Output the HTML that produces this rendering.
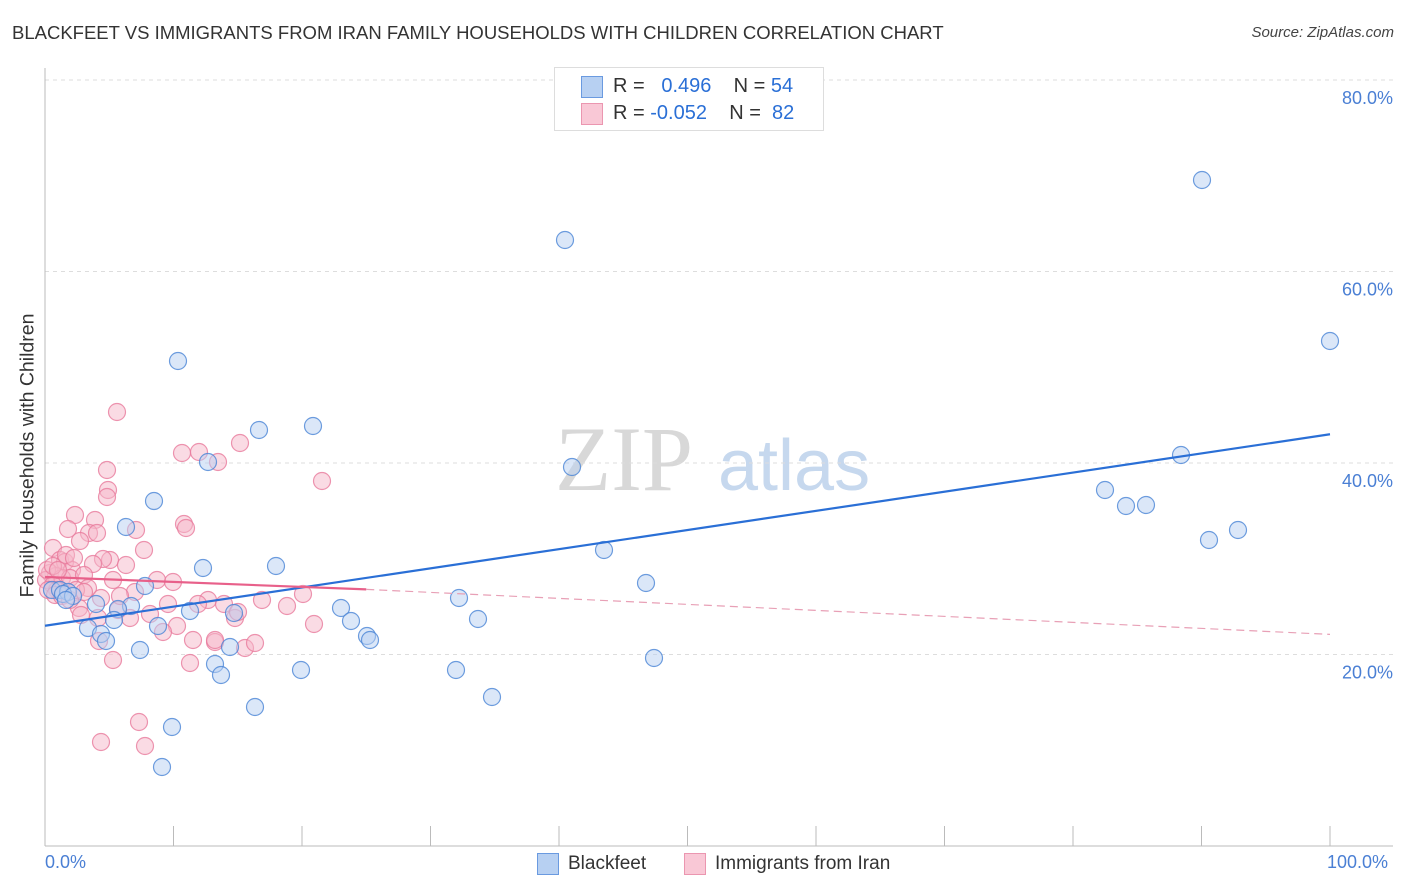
<!DOCTYPE html>
<html><head><meta charset="utf-8"><style>
body{margin:0;background:#fff;font-family:"Liberation Sans",sans-serif;}
#wrap{position:relative;width:1406px;height:892px;overflow:hidden;}
.t{position:absolute;white-space:nowrap;}
</style></head><body>
<div id="wrap">
<div class="t" style="left:12px;top:22px;font-size:18.5px;color:#333;">BLACKFEET VS IMMIGRANTS FROM IRAN FAMILY HOUSEHOLDS WITH CHILDREN CORRELATION CHART</div>
<div class="t" style="right:12px;top:24px;font-size:15px;font-style:italic;color:#444;">Source: ZipAtlas.com</div>
<svg id="svg" width="1406" height="892" style="position:absolute;left:0;top:0"></svg>
</div>
<script>
const blueX=[1202,565,1330,178,313,259,208,572,1181,1105,1126,1146,154,126,1238,1209,604,276,203,646,145,52,60,68,96,131,118,459,341,190,234,351,478,88,101,106,158,367,370,140,230,215,221,301,456,654,492,255,172,162,63,73,114,66].map(p=>(p-45)/12.85);
const blueY=[180,240,341,361,426,430,462,467,455,490,506,505,501,527,530,540,550,566,568,583,586,590,590,592,604,606,609,598,608,611,613,621,619,628,634,641,626,636,640,650,647,664,675,670,670,658,697,707,727,767,594,596,620,600].map(p=>(846-p)/9.575);
const pinkX=[117,199,182,218,240,322,107,108,107,75,95,136,184,186,89,97,68,80,144,53,110,126,103,93,60,65,72,50,56,62,70,84,113,157,173,46,53,57,88,101,135,303,208,168,224,79,118,150,130,235,314,177,81,98,193,215,99,245,255,163,215,190,113,139,101,145,47,48,55,62,70,76,84,120,287,198,262,238,53,58,66,74].map(p=>(p-45)/12.85);
const pinkY=[412,452,453,462,443,481,470,490,497,515,520,530,524,528,533,533,529,541,550,548,560,565,559,564,560,562,570,573,576,578,578,575,580,580,582,580,585,590,588,598,592,594,600,604,604,608,610,614,618,618,624,626,615,618,640,642,641,648,643,632,640,663,660,722,742,746,570,590,595,596,600,590,592,596,606,604,600,612,566,570,555,558].map(p=>(846-p)/9.575);
const yTicks=[20,40,60,80];
const yLabels=["20.0%","40.0%","60.0%","80.0%"];
const blueLine=[[0,23.0],[100,43.0]];
const pinkLine=[[0,28.1],[25,26.8],[100,22.1]];
const X=v=>45+v*12.85, Y=v=>846-v*9.575;
const svg=document.getElementById('svg');
const NS='http://www.w3.org/2000/svg';
function mk(tag,attrs){const e=document.createElementNS(NS,tag);for(const k in attrs)e.setAttribute(k,attrs[k]);svg.appendChild(e);return e;}
let wm=mk('text',{x:555,y:490,'font-size':92,'font-family':'Liberation Serif,serif',fill:'#d8d8d8'});wm.textContent='ZIP';


let wm2=mk('text',{x:718,y:490,'font-size':72,'font-family':'Liberation Sans,sans-serif',fill:'#c6d8ee'});wm2.textContent='atlas';


yTicks.forEach((v,i)=>{
 const g=mk('line',{x1:45,x2:1393,y1:Y(v),y2:Y(v),stroke:'#ddd','stroke-dasharray':'4,4'});
 
 
 const t=mk('text',{x:1393,y:Y(v)+24,'text-anchor':'end','font-size':18,fill:'#4a7fd4'});t.textContent=yLabels[i];
 
 
});
let ax=mk('line',{x1:45,x2:45,y1:68,y2:846,stroke:'#bbb'});


let bx=mk('line',{x1:45,x2:1393,y1:846,y2:846,stroke:'#bbb'});


for(let i=1;i<=10;i++){const l=mk('line',{x1:X(i*10),x2:X(i*10),y1:826,y2:846,stroke:'#bbb'});
 
 }
function dots(xs,ys,fill,stroke,name){xs.forEach((x,i)=>{const c=mk('circle',{cx:X(x),cy:Y(ys[i]),r:8.5,fill:fill,'fill-opacity':0.5,stroke:stroke,'stroke-width':1.2,'stroke-opacity':0.8});
 
 });}
dots(pinkX,pinkY,'#f6b8c9','#e87a9c','pink-point');
dots(blueX,blueY,'#b7d0f2','#4a84d6','blue-point');
let bl=mk('line',{x1:X(blueLine[0][0]),y1:Y(blueLine[0][1]),x2:X(blueLine[1][0]),y2:Y(blueLine[1][1]),stroke:'#2a6fd6','stroke-width':2.2});


let pl=mk('line',{x1:X(pinkLine[0][0]),y1:Y(pinkLine[0][1]),x2:X(pinkLine[1][0]),y2:Y(pinkLine[1][1]),stroke:'#e8608a','stroke-width':2.2});


let pd=mk('line',{x1:X(pinkLine[1][0]),y1:Y(pinkLine[1][1]),x2:X(pinkLine[2][0]),y2:Y(pinkLine[2][1]),stroke:'#e8a0b6','stroke-width':1.2,'stroke-dasharray':'8,5'});


</script>
<div class="t" style="left:-122px;top:444px;transform:rotate(-90deg);font-size:19.5px;color:#333;width:300px;text-align:center;">Family Households with Children</div>
<div class="t" style="left:45px;top:852px;font-size:18px;color:#4a7fd4;">0.0%</div>
<div class="t" style="left:1327px;top:852px;font-size:18px;color:#4a7fd4;">100.0%</div>
<div style="position:absolute;left:554px;top:67px;width:268px;height:62px;border:1px solid #ddd;background:#fff;font-size:20px;">
 <div style="position:absolute;left:26px;top:8px;width:20px;height:20px;background:#b7d0f2;border:1px solid #6a9ae0;"></div>
 <div class="t" style="left:58px;top:7px;color:#333;">R = &nbsp;&nbsp;<span style="color:#2a6fd6">0.496</span>&nbsp;&nbsp;&nbsp;&nbsp;N = <span style="color:#2a6fd6">54</span></div>
 <div style="position:absolute;left:26px;top:35px;width:20px;height:20px;background:#f9c8d6;border:1px solid #eb96b0;"></div>
 <div class="t" style="left:58px;top:34px;color:#333;">R = <span style="color:#2a6fd6">-0.052</span>&nbsp;&nbsp;&nbsp;&nbsp;N = &nbsp;<span style="color:#2a6fd6">82</span></div>
</div>
<div style="position:absolute;left:537px;top:853px;">
 <div style="position:absolute;left:0;top:0;width:20px;height:20px;background:#b7d0f2;border:1px solid #6a9ae0;"></div>
 <div class="t" style="left:31px;top:0;font-size:19px;color:#333;">Blackfeet</div></div>
<div style="position:absolute;left:684px;top:853px;">
 <div style="position:absolute;left:0;top:0;width:20px;height:20px;background:#f9c8d6;border:1px solid #eb96b0;"></div>
 <div class="t" style="left:31px;top:0;font-size:19px;color:#333;">Immigrants from Iran</div></div>
</body></html>
